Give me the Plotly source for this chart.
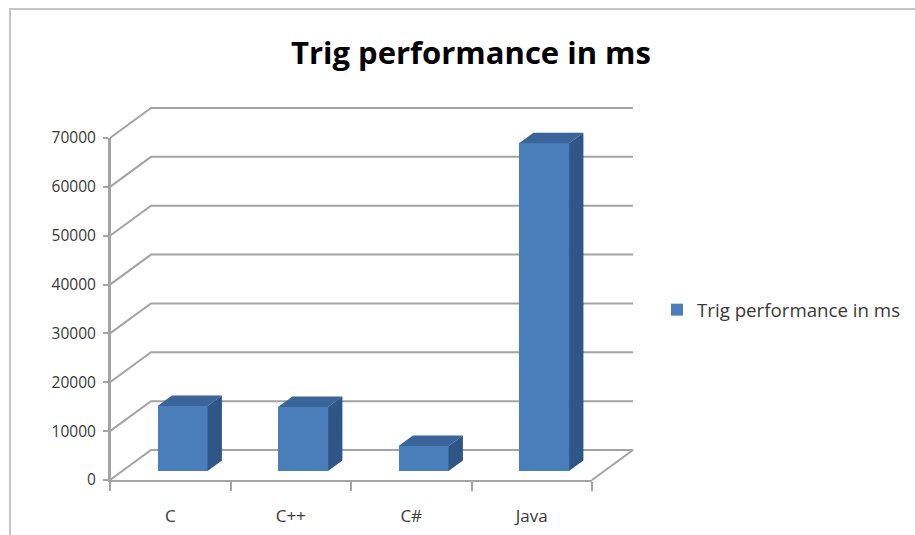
import plotly.graph_objects as go

# ---- data -------------------------------------------------------------
categories = ["C", "C++", "C#", "Java"]
values = [13300, 13100, 5100, 67100]
series_name = "Trig performance in ms"
y_ticks = [0, 10000, 20000, 30000, 40000, 50000, 60000, 70000]
y_tick_labels = [str(v) for v in y_ticks]
title_text = "Trig performance in ms"

# ---- page / projection geometry (pixels) -------------------------------
W, H = 915, 535
FRONT_LEFT, FRONT_RIGHT = 110, 592      # front floor edge
FRONT_ZERO, FRONT_TOP = 480, 138        # y of 0 and of the top tick on the front plane
DEPTH_DX_PX, DEPTH_DY_PX = 41, 30       # oblique offset of the back wall

n = len(categories)
Y_TOP = y_ticks[-1]
SX = (FRONT_RIGHT - FRONT_LEFT) / n             # px per category
SY = (FRONT_ZERO - FRONT_TOP) / Y_TOP           # px per value unit
DX = DEPTH_DX_PX / SX                           # depth offset in x units
DY = DEPTH_DY_PX / SY                           # depth offset in value units

# drawing area (overlaid axes sharing the same scale as the front axes)
DRAW_L, DRAW_R, DRAW_B, DRAW_T = 100, 650, 490, 95
draw_xrange = [-0.5 - (FRONT_LEFT - DRAW_L) / SX, -0.5 + (DRAW_R - FRONT_LEFT) / SX]
draw_yrange = [-(DRAW_B - FRONT_ZERO) / SY, (FRONT_ZERO - DRAW_T) / SY]
draw_xdom = [DRAW_L / W, DRAW_R / W]
draw_ydom = [(H - DRAW_B) / H, (H - DRAW_T) / H]

GRID = "#a3a3a3"
FRONT = "#4a7ebb"
SIDE = "#2f5687"
TOP = "#3a659b"
TEXT = "#383838"
FONT = "Open Sans"

fig = go.Figure()

# ---- front value axis line (front plane, 0 .. top tick) ------------------
fig.add_trace(go.Scatter(x=[-0.5, -0.5], y=[y_ticks[0], Y_TOP], mode="lines",
                         line=dict(color=GRID, width=2), hoverinfo="skip",
                         showlegend=False, xaxis="x", yaxis="y"))

# ---- back wall gridlines with their diagonals, plus floor edge ----------
gx, gy = [], []
for v in y_ticks:
    gx += [-0.5, -0.5 + DX, n - 0.5 + DX, None]
    gy += [v, v + DY, v + DY, None]
gx += [n - 0.5, n - 0.5 + DX, None]
gy += [0, DY, None]
fig.add_trace(go.Scatter(x=gx, y=gy, mode="lines", line=dict(color=GRID, width=2),
                         hoverinfo="skip", showlegend=False, xaxis="x2", yaxis="y2"))

# ---- 3D columns ---------------------------------------------------------
F0, F1 = 0.30, 0.65     # depth position of column front / back
BW = 0.415              # column width in category units
ddx, ddy = (F1 - F0) * DX, (F1 - F0) * DY
base = F0 * DY
xc = [i + F0 * DX for i in range(n)]

fig.add_trace(go.Bar(x=xc, y=values, base=[base] * n, width=BW,
                     marker=dict(color=FRONT, line=dict(width=0)),
                     name=series_name, xaxis="x3", yaxis="y3"))

sx, sy, tx, ty = [], [], [], []
for c, v in zip(xc, values):
    x0, x1 = c - BW / 2, c + BW / 2
    yb, yt = base, base + v
    sx += [x1, x1 + ddx, x1 + ddx, x1, x1, None]
    sy += [yb, yb + ddy, yt + ddy, yt, yb, None]
    tx += [x0, x1, x1 + ddx, x0 + ddx, x0, None]
    ty += [yt, yt, yt + ddy, yt + ddy, yt, None]
fig.add_trace(go.Scatter(x=sx, y=sy, mode="lines", fill="toself", fillcolor=SIDE,
                         line=dict(width=0, color=SIDE), hoverinfo="skip",
                         showlegend=False, xaxis="x3", yaxis="y3"))
fig.add_trace(go.Scatter(x=tx, y=ty, mode="lines", fill="toself", fillcolor=TOP,
                         line=dict(width=0, color=TOP), hoverinfo="skip",
                         showlegend=False, xaxis="x3", yaxis="y3"))

hidden = dict(visible=False, showgrid=False, zeroline=False, fixedrange=True, automargin=False)

fig.update_layout(
    width=W, height=H,
    margin=dict(l=0, r=0, t=0, b=0, pad=0, autoexpand=False),
    paper_bgcolor="white", plot_bgcolor="rgba(0,0,0,0)",
    title=dict(text=title_text, x=471 / W, xanchor="center", y=1 - 53 / H, yanchor="middle",
               font=dict(family=FONT, size=31, color="black", weight="bold")),
    xaxis=dict(domain=[FRONT_LEFT / W, FRONT_RIGHT / W], range=[-0.5, n - 0.5],
               anchor="y", showgrid=False, zeroline=False, fixedrange=True, automargin=False,
               showline=True, linecolor=GRID, linewidth=2,
               tickmode="array", tickvals=list(range(n)), ticktext=categories, ticks="",
               ticklabelstandoff=20,
               tickfont=dict(family=FONT, size=17, color=TEXT),
               minor=dict(tickmode="array", tickvals=[i - 0.5 for i in range(n + 1)],
                          ticks="outside", ticklen=9, tickwidth=2, tickcolor=GRID,
                          showgrid=False)),
    yaxis=dict(domain=[(H - FRONT_ZERO) / H, (H - FRONT_TOP) / H], range=[0, Y_TOP],
               anchor="x", showgrid=False, zeroline=False, fixedrange=True, automargin=False,
               showline=True, linecolor=GRID, linewidth=2,
               tickmode="array", tickvals=y_ticks, ticktext=y_tick_labels,
               ticks="outside", ticklen=5,
               tickwidth=2, tickcolor=GRID, ticklabelstandoff=4,
               tickfont=dict(family=FONT, size=15.5, color=TEXT)),
    xaxis2=dict(domain=draw_xdom, range=draw_xrange, anchor="y2", **hidden),
    yaxis2=dict(domain=draw_ydom, range=draw_yrange, anchor="x2", **hidden),
    xaxis3=dict(domain=draw_xdom, range=draw_xrange, anchor="y3", **hidden),
    yaxis3=dict(domain=draw_ydom, range=draw_yrange, anchor="x3", **hidden),
    legend=dict(x=657 / W, xanchor="left", y=1 - 310 / H, yanchor="middle",
                bgcolor="rgba(0,0,0,0)", itemwidth=30,
                font=dict(family=FONT, size=18.7, color=TEXT)),
    showlegend=True,
    bargap=0,
)

# chart frame
fig.add_shape(type="rect", xref="paper", yref="paper",
              x0=10 / W, x1=1.2, y0=-0.2, y1=1 - 9 / H,
              line=dict(color="#c6c6c6", width=2), fillcolor="rgba(0,0,0,0)", layer="below")

fig.write_html("out.html")
